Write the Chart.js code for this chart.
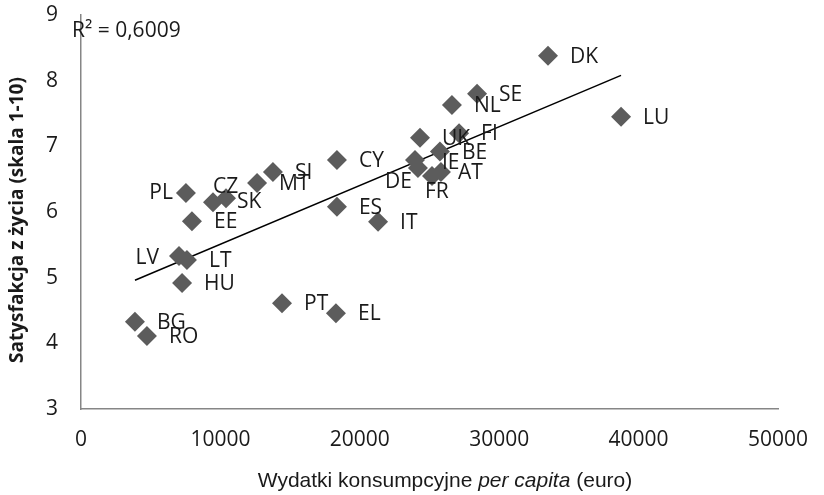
<!DOCTYPE html>
<html lang="pl">
<head>
<meta charset="UTF-8">
<title>Satysfakcja z życia</title>
<script src="https://cdn.jsdelivr.net/npm/chart.js"></script>
<style>
  html, body { margin: 0; padding: 0; background: #fff; }
  #wrap { width: 824px; height: 495px; }
</style>
</head>
<body>
<div id="wrap"><canvas id="Chart" width="824" height="495"></canvas></div>
<script>
// kraje UE
const countries = ['DK', 'LU', 'SE', 'NL', 'FI', 'UK', 'BE', 'IE', 'DE', 'AT', 'FR', 'CY', 'ES', 'IT', 'SI', 'MT', 'SK', 'CZ', 'PL', 'EE', 'LV', 'LT', 'HU', 'PT', 'EL', 'BG', 'RO'];
// wydatki konsumpcyjne per capita (euro)
const spending = [33500, 38740, 28410, 26610, 27120, 24320, 25750, 23960, 24170, 25820, 25180, 18360, 18360, 21310, 13770, 12630, 10400, 9470, 7530, 7960, 7030, 7600, 7250, 14420, 18290, 3870, 4730];
// satysfakcja z życia (1-10)
const satisfaction = [8.38, 7.45, 7.80, 7.63, 7.20, 7.13, 6.92, 6.79, 6.67, 6.61, 6.55, 6.79, 6.08, 5.85, 6.61, 6.44, 6.21, 6.15, 6.29, 5.86, 5.33, 5.27, 4.92, 4.61, 4.46, 4.33, 4.11];
// linia trendu (odczytane końce)
const trendX = [3870, 38740];
const trendY = [4.96, 8.08];
const xTicks = [0, 10000, 20000, 30000, 40000, 50000];
const yTicks = [3, 4, 5, 6, 7, 8, 9];
const r2Text = 'R² = 0,6009';

// przesunięcia etykiet [dx, dy, wyrównanie]
const labelShift = {
  PL: [-13, 0, 'right'],
  LV: [-20, 2, 'right'],
  CZ: [0, -15, 'left'],
  SK: [11, 4, 'left'],
  DE: [-6, 14, 'right'],
  FR: [-7, 16, 'left'],
  AT: [17, 1, 'left'],
  IE: [27, 3, 'left']
};

const FONT = '"Open Sans", sans-serif';

const points = spending.map((x, i) => ({ x: x, y: satisfaction[i] }));
const trend = trendX.map((x, i) => ({ x: x, y: trendY[i] }));

const textPlugin = {
  id: 'texts',
  afterDatasetsDraw(chart) {
    const ctx = chart.ctx;
    const meta = chart.getDatasetMeta(0);
    ctx.save();
    ctx.fillStyle = '#1a1a1a';
    ctx.font = '21px ' + FONT;
    ctx.textBaseline = 'middle';
    meta.data.forEach((pt, i) => {
      const s = labelShift[countries[i]] || [22, 1, 'left'];
      ctx.textAlign = s[2];
      ctx.fillText(countries[i], pt.x + s[0], pt.y + s[1]);
    });
    // R^2
    ctx.textAlign = 'left';
    ctx.fillText(r2Text, 72, 31);

    // tytuł osi X (z kursywą)
    const xf = '21px "Liberation Sans", sans-serif';
    const parts = [
      ['Wydatki konsumpcyjne ', ''],
      ['per capita', 'italic '],
      [' (euro)', '']
    ];
    let total = 0;
    parts.forEach(p => {
      ctx.font = p[1] + xf;
      total += ctx.measureText(p[0]).width;
    });
    let xx = 445 - total / 2;
    parts.forEach(p => {
      ctx.font = p[1] + xf;
      ctx.fillText(p[0], xx, 481);
      xx += ctx.measureText(p[0]).width;
    });

    // tytuł osi Y
    ctx.translate(18, 220);
    ctx.rotate(-Math.PI / 2);
    ctx.textAlign = 'center';
    ctx.font = 'bold 19px ' + FONT;
    ctx.fillText('Satysfakcja z życia (skala 1-10)', 0, 0);
    ctx.restore();
  }
};

const canvas = document.getElementById('Chart').getContext('2d');
new Chart(canvas, {
  type: 'scatter',
  data: {
    datasets: [{
      label: 'kraje',
      data: points,
      pointStyle: 'rectRot',
      pointRadius: 10,
      pointHoverRadius: 10,
      backgroundColor: '#5c5c5c',
      borderWidth: 0
    }, {
      label: 'trend',
      type: 'line',
      data: trend,
      borderColor: '#000',
      borderWidth: 1.5,
      pointRadius: 0,
      fill: false
    }]
  },
  options: {
    responsive: false,
    animation: false,
    events: [],
    layout: { padding: { left: 0, right: 46, top: 15, bottom: 0 } },
    plugins: {
      legend: { display: false },
      tooltip: { enabled: false }
    },
    scales: {
      x: {
        type: 'linear',
        min: 0,
        max: 50000,
        afterBuildTicks: s => { s.ticks = xTicks.map(v => ({ value: v })); },
        afterFit: s => { s.height = 86; s.paddingRight = 0; s.paddingLeft = 0; },
        grid: { display: false, drawTicks: false },
        border: { display: true, color: '#868686', width: 1.5 },
        ticks: {
          color: '#1a1a1a',
          padding: 18,
          maxRotation: 0,
          font: { family: FONT, size: 21 },
          callback: v => String(v)
        }
      },
      y: {
        type: 'linear',
        min: 3,
        max: 9,
        afterBuildTicks: s => { s.ticks = yTicks.map(v => ({ value: v })); },
        afterFit: s => { s.width = 81; s.paddingTop = 0; s.paddingBottom = 0; },
        grid: { display: false, drawTicks: false },
        border: { display: true, color: '#868686', width: 1.5 },
        ticks: {
          color: '#1a1a1a',
          padding: 23,
          font: { family: FONT, size: 21 },
          callback: v => String(v)
        }
      }
    }
  },
  plugins: [textPlugin]
});
</script>
</body>
</html>
